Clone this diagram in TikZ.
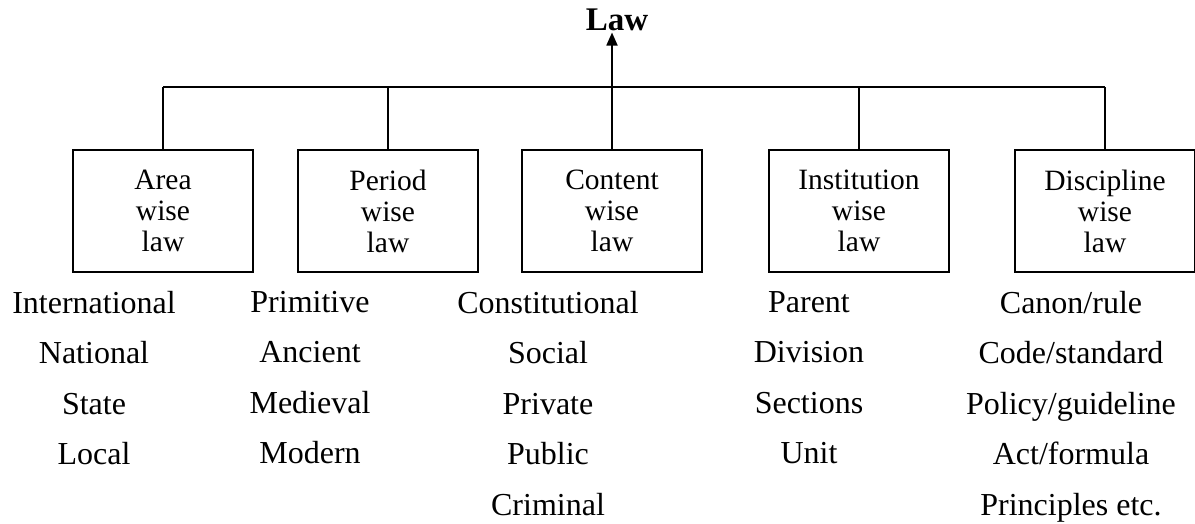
\documentclass[tikz,border=0pt]{standalone}
\usepackage{fontspec}
\setmainfont{Liberation Serif}
\usetikzlibrary{arrows.meta}

\begin{document}
\begin{tikzpicture}[x=1pt,y=-1pt]
	\tikzstyle{kind}=[draw,line width=1.3pt,minimum width=180pt,minimum height=122pt,align=center,inner sep=0pt,font=\fontsize{29.5}{31}\selectfont]
	\tikzstyle{items}=[anchor=north,align=center,inner sep=0pt,font=\fontsize{32}{50.5}\selectfont]
	\tikzstyle{wire}=[line width=1.8pt]
	\useasboundingbox (0,0) rectangle (1195,523);
	\node[anchor=base,inner sep=2pt,font=\fontsize{33}{33}\selectfont\bfseries] (law) at (617,30) {Law};
	\node[kind] (area) at (163,211) {Area\\wise\\law};
	\node[kind] (period) at (388,211) {Period\\wise\\law};
	\node[kind] (content) at (612,211) {Content\\wise\\law};
	\node[kind] (institution) at (859,211) {Institution\\wise\\law};
	\node[kind] (discipline) at (1105,211) {Discipline\\wise\\law};
	\coordinate (bus) at (0,87);
	\draw[wire] (area.north |- bus) -- (discipline.north |- bus);
	\draw[wire,line width=2.8pt] (area.north) -- (area.north |- bus);
	\draw[wire] (period.north) -- (period.north |- bus);
	\draw[wire] (institution.north) -- (institution.north |- bus);
	\draw[wire] (discipline.north) -- (discipline.north |- bus);
	\draw[wire,-{Triangle[length=13pt,width=11pt]}] (content.north) -- (content.north |- law.south);
	\node[items] (arealist) at (94,291) {International\\National\\State\\Local};
	\node[items] (periodlist) at (310,291) {Primitive\\Ancient\\Medieval\\Modern};
	\node[items] (contentlist) at (548,291) {Constitutional\\Social\\Private\\Public\\Criminal};
	\node[items] (institutionlist) at (809,291) {Parent\\Division\\Sections\\Unit};
	\node[items] (disciplinelist) at (1071,291) {Canon/rule\\Code/standard\\Policy/guideline\\Act/formula\\Principles etc.};
\end{tikzpicture}
\end{document}
